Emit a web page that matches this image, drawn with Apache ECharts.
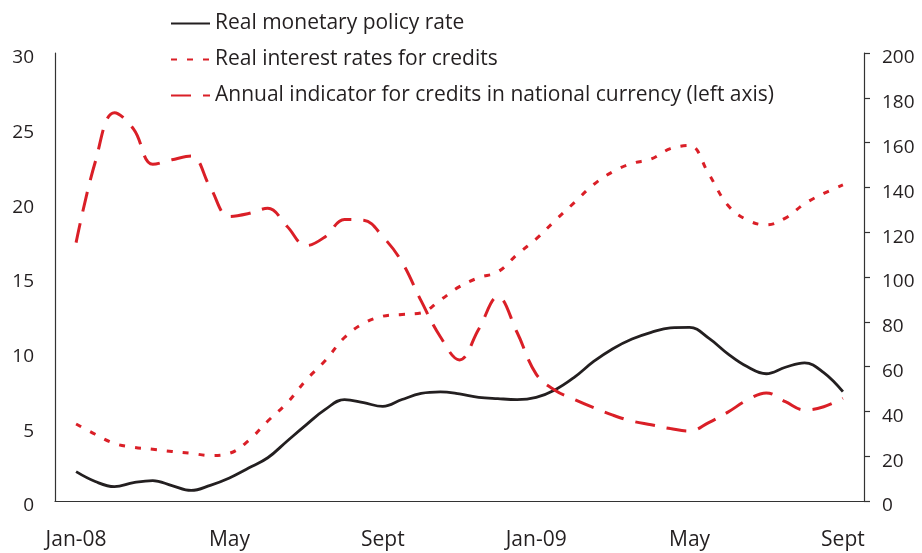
<!DOCTYPE html>
<html>
<head>
<meta charset="utf-8">
<script src="https://cdn.jsdelivr.net/npm/echarts@6/dist/echarts.min.js"></script>
<style>
  html, body { margin: 0; padding: 0; background: #fff; }
  #chart { width: 922px; height: 553px; }
</style>
</head>
<body>
<div id="chart"></div>
<script>
// months since Jan-08, half-month steps
const months = [0, 0.5, 1, 1.5, 2, 2.5, 3, 3.5, 4, 4.5, 5, 5.5, 6, 6.5, 7, 7.5, 8, 8.5, 9, 9.5,
  10, 10.5, 11, 11.5, 12, 12.5, 13, 13.5, 14, 14.5, 15, 15.5, 16, 16.5, 17, 17.5, 18, 18.5, 19, 19.5, 20];
const tickMonths = [0, 4, 8, 12, 16, 20];
const tickLabels = ["Jan-08", "May", "Sept", "Jan-09", "May", "Sept"];

// right axis
const policyRate = [13.1, 8.7, 6.4, 8.2, 9.1, 6.9, 4.7, 7.0, 10.3, 14.7, 19.3, 26.7, 34.0, 40.9, 45.3,
  43.9, 42.2, 45.3, 48.0, 48.7, 47.8, 46.3, 45.7, 45.3, 46.3, 49.7, 55.3, 62.3, 68.0, 72.3, 75.3,
  77.3, 77.5, 72.7, 65.7, 60.0, 56.8, 59.7, 61.7, 57.3, 48.8];
// right axis
const creditRate = [34.4, 29.8, 25.7, 24.0, 23.1, 22.1, 21.3, 20.3, 21.3, 27.0, 35.7, 43.7, 54.0, 62.7,
  73.0, 79.3, 82.5, 83.3, 84.0, 89.7, 95.7, 99.7, 102.3, 110.0, 117.0, 125.3, 133.3, 141.3, 147.0,
  150.7, 152.7, 157.3, 158.7, 146.0, 132.0, 125.5, 123.3, 126.3, 132.7, 137.3, 141.1];
// left axis
const creditGrowth = [17.3, 22.7, 26.0, 24.9, 22.55, 22.85, 23.1, 21.0, 19.05, 19.25, 19.6, 18.4, 17.1,
  17.7, 18.85, 18.8, 17.7, 16.0, 13.4, 11.0, 9.45, 11.5, 13.68, 11.3, 8.5, 7.4, 6.8, 6.25, 5.75,
  5.35, 5.1, 4.85, 4.68, 5.25, 5.95, 6.75, 7.24, 6.65, 6.1, 6.31, 6.88];

const pairs = (vals) => months.map((m, i) => [m, vals[i]]);

const red = "#da1f27";
const ink = "#231f20";
const axisCol = "#333";
const font = "Open Sans";

const chart = echarts.init(document.getElementById("chart"));
chart.setOption({
  animation: false,
  textStyle: { fontFamily: font, color: ink },
  legend: {
    orient: "vertical",
    left: 165,
    top: 8,
    itemWidth: 39,
    itemHeight: 14,
    itemGap: 15,
    itemStyle: { opacity: 0 },
    textStyle: { fontFamily: font, fontSize: 21, color: ink },
    data: ["Real monetary policy rate", "Real interest rates for credits",
      "Annual indicator for credits in national currency (left axis)"]
  },
  grid: { left: 55, right: 58, top: 53, bottom: 52, outerBoundsMode: "none" },
  xAxis: {
    type: "value",
    min: -0.55,
    max: 20.55,
    splitLine: { show: false },
    axisLine: { show: true, onZero: false, lineStyle: { color: axisCol, width: 1.2 } },
    axisTick: { show: false },
    axisLabel: {
      customValues: tickMonths,
      formatter: (v) => tickLabels[tickMonths.indexOf(v)] || "",
      fontSize: 21,
      color: ink,
      margin: 29
    }
  },
  yAxis: [
    {
      type: "value",
      min: 0,
      max: 30,
      interval: 5,
      splitLine: { show: false },
      axisLine: { show: true, onZero: false, lineStyle: { color: axisCol, width: 1.2 } },
      axisTick: { show: false },
      axisLabel: { fontSize: 19, color: ink, margin: 21, verticalAlign: "top", lineHeight: 10 }
    },
    {
      type: "value",
      min: 0,
      max: 200,
      interval: 20,
      position: "right",
      splitLine: { show: false },
      axisLine: { show: true, onZero: false, lineStyle: { color: axisCol, width: 1.2 } },
      axisTick: { show: true, length: 6, lineStyle: { color: axisCol, width: 1.2 } },
      axisLabel: { fontSize: 19, color: ink, margin: 18, verticalAlign: "top", lineHeight: 10 }
    }
  ],
  series: [
    {
      name: "Real monetary policy rate",
      type: "line",
      yAxisIndex: 1,
      smooth: 0.4,
      symbol: "none",
      lineStyle: { color: ink, width: 2.8 },
      itemStyle: { color: ink },
      data: pairs(policyRate)
    },
    {
      name: "Real interest rates for credits",
      type: "line",
      yAxisIndex: 1,
      smooth: 0.4,
      symbol: "none",
      lineStyle: { color: red, width: 3, type: [6, 10] },
      itemStyle: { color: red },
      data: pairs(creditRate)
    },
    {
      name: "Annual indicator for credits in national currency (left axis)",
      type: "line",
      yAxisIndex: 0,
      smooth: 0.4,
      symbol: "none",
      lineStyle: { color: red, width: 3, type: [20, 12] },
      itemStyle: { color: red },
      data: pairs(creditGrowth)
    }
  ]
});
</script>
</body>
</html>
